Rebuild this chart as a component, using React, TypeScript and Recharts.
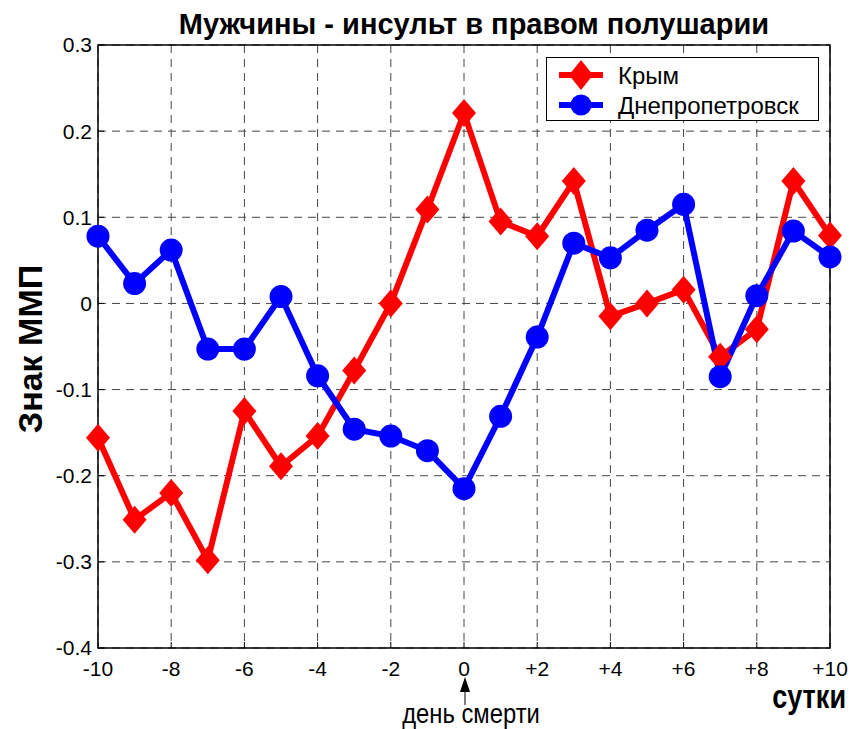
import React from "react";
import {
  LineChart,
  Line,
  XAxis,
  YAxis,
  CartesianGrid,
  Legend,
  ReferenceArea,
} from "recharts";

// Days relative to the day of death
const days = [-10, -9, -8, -7, -6, -5, -4, -3, -2, -1, 0, 1, 2, 3, 4, 5, 6, 7, 8, 9, 10];

// Sign of the MMP index, Crimea
const krym = [
  -0.156, -0.251, -0.22, -0.298, -0.125, -0.189, -0.154, -0.078, 0.0, 0.109, 0.221,
  0.095, 0.078, 0.142, -0.015, 0.0, 0.016, -0.062, -0.03, 0.142, 0.079,
];

// Sign of the MMP index, Dnipropetrovsk
const dnepr = [
  0.078, 0.023, 0.062, -0.053, -0.053, 0.008, -0.084, -0.146, -0.154, -0.171, -0.215,
  -0.131, -0.039, 0.07, 0.053, 0.085, 0.115, -0.085, 0.009, 0.084, 0.054,
];

const xTicks = [-10, -8, -6, -4, -2, 0, 2, 4, 6, 8, 10];
const yTicks = [-0.4, -0.3, -0.2, -0.1, 0, 0.1, 0.2, 0.3];
const seriesOrder = ["krym", "dnepr"];

const data = days.map((d, i) => ({ day: d, krym: krym[i], dnepr: dnepr[i] }));

const FONT = "'Liberation Sans', Arial, sans-serif";
const RED = "#ff0000";
const BLUE = "#0000ff";

function Diamond({ cx, cy, fill, h = 14 }: { cx?: number; cy?: number; fill: string; h?: number }) {
  if (cx == null || cy == null) return null;
  const w = 12;
  return (
    <polygon
      points={`${cx},${cy - h} ${cx + w},${cy} ${cx},${cy + h} ${cx - w},${cy}`}
      fill={fill}
    />
  );
}

function Circle({ cx, cy, fill, r = 11.5 }: { cx?: number; cy?: number; fill: string; r?: number }) {
  if (cx == null || cy == null) return null;
  return <circle cx={cx} cy={cy} r={r} fill={fill} />;
}

function LegendBox({ payload }: { payload?: any[] }) {
  const items = [...(payload ?? [])].sort(
    (a, b) => seriesOrder.indexOf(a.dataKey) - seriesOrder.indexOf(b.dataKey)
  );
  return (
    <div
      style={{
        width: 271,
        height: 62,
        border: "1px solid #000",
        background: "#fff",
      }}
    >
      <svg width={271} height={62} style={{ display: "block" }}>
        {items.map((p, i) => {
          const y = 17 + i * 30;
          const isKrym = p.dataKey === "krym";
          return (
            <g key={p.value}>
              <line x1={12} x2={56} y1={y} y2={y} stroke={p.color} strokeWidth={6} />
              {isKrym ? (
                <Diamond cx={34} cy={y} fill={p.color} h={15} />
              ) : (
                <Circle cx={34} cy={y} fill={p.color} r={10.5} />
              )}
              <text x={71} y={y + 9} fontFamily={FONT} fontSize={24} fill="#000">
                {p.value}
              </text>
            </g>
          );
        })}
      </svg>
    </div>
  );
}

export default function App() {
  return (
    <div style={{ position: "absolute", left: 0, top: 0, background: "#fff" }}>
      <LineChart
        width={852}
        height={729}
        data={data}
        margin={{ top: 44, right: 21, bottom: 80, left: 97 }}
      >
        <CartesianGrid stroke="#444" strokeDasharray="8 6" strokeWidth={1} />

        <XAxis
          dataKey="day"
          type="number"
          domain={[-10, 10]}
          ticks={xTicks}
          interval={0}
          height={1}
          tickSize={-6}
          tickMargin={19}
          tickFormatter={(v: number) => (v > 0 ? `+${v}` : `${v}`)}
          tick={{ fill: "#000", fontSize: 21, fontFamily: FONT }}
          tickLine={{ stroke: "#000" }}
          axisLine={false}
        />
        <XAxis
          xAxisId="top"
          orientation="top"
          dataKey="day"
          type="number"
          domain={[-10, 10]}
          ticks={xTicks}
          interval={0}
          height={1}
          tickSize={-6}
          tick={false}
          tickLine={{ stroke: "#000" }}
          axisLine={false}
        />
        <YAxis
          type="number"
          domain={[-0.4, 0.3]}
          ticks={yTicks}
          interval={0}
          width={1}
          tickSize={-6}
          tickMargin={12}
          tick={{ fill: "#000", fontSize: 21, fontFamily: FONT }}
          tickLine={{ stroke: "#000" }}
          axisLine={false}
        />
        <YAxis
          yAxisId="right"
          orientation="right"
          type="number"
          domain={[-0.4, 0.3]}
          ticks={yTicks}
          interval={0}
          width={1}
          tickSize={-6}
          tick={false}
          tickLine={{ stroke: "#000" }}
          axisLine={false}
        />

        {/* plot frame */}
        <ReferenceArea
          x1={-10}
          x2={10}
          y1={-0.4}
          y2={0.3}
          fill="none"
          stroke="#000"
          strokeWidth={1.5}
          ifOverflow="visible"
        />

        <Line
          dataKey="krym"
          name="Крым"
          stroke={RED}
          strokeWidth={6}
          isAnimationActive={false}
          dot={(p: any) => <Diamond key={`k${p.index}`} cx={p.cx} cy={p.cy} fill={RED} />}
          activeDot={false}
        />
        <Line
          dataKey="dnepr"
          name="Днепропетровск"
          stroke={BLUE}
          strokeWidth={6}
          isAnimationActive={false}
          dot={(p: any) => <Circle key={`d${p.index}`} cx={p.cx} cy={p.cy} fill={BLUE} />}
          activeDot={false}
        />

        <Legend
          layout="horizontal"
          align="center"
          verticalAlign="middle"
          content={<LegendBox />}
          wrapperStyle={{ left: 546, top: 57, width: 273, height: 64 }}
        />

        <text
          x={474}
          y={34}
          textAnchor="middle"
          fontFamily={FONT}
          fontWeight="bold"
          fontSize={29}
          fill="#000"
        >
          Мужчины - инсульт в правом полушарии
        </text>
        <text
          transform="translate(42,349) rotate(-90)"
          textAnchor="middle"
          fontFamily={FONT}
          fontWeight="bold"
          fontSize={34}
          fill="#000"
        >
          Знак ММП
        </text>
        <text
          transform="translate(846,708) scale(0.82,1)"
          textAnchor="end"
          fontFamily={FONT}
          fontWeight="bold"
          fontSize={33}
          fill="#000"
        >
          сутки
        </text>
        <polygon points="465,677 460,692 470,692" fill="#000" />
        <line x1={465} x2={465} y1={690} y2={705} stroke="#000" strokeWidth={1} />
        <text
          transform="translate(471,723) scale(0.85,1)"
          textAnchor="middle"
          fontFamily={FONT}
          fontSize={28}
          fill="#000"
        >
          день смерти
        </text>
      </LineChart>
    </div>
  );
}
